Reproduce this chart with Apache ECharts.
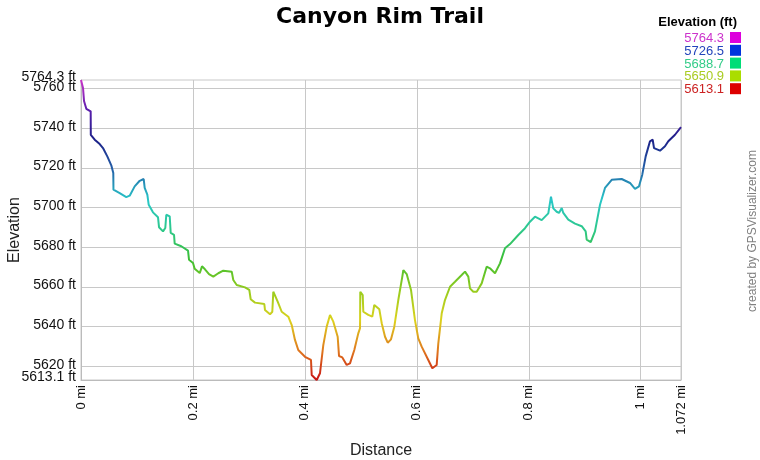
<!DOCTYPE html>
<html>
<head>
<meta charset="utf-8">
<script src="https://cdn.jsdelivr.net/npm/echarts@6/dist/echarts.min.js"></script>
<style>
  html, body { margin: 0; padding: 0; background: #fff; }
  #chart { width: 760px; height: 460px; }
</style>
</head>
<body>
<div id="chart"></div>
<script>
// distance along the trail (mi)
const distance = [
  0, 0.0036, 0.0054, 0.0095, 0.0173, 0.0175, 0.0245, 0.0334, 0.0393, 0.0470,
  0.0541, 0.0577, 0.0580, 0.0691, 0.0809, 0.0870, 0.0959, 0.1049, 0.1120, 0.1138,
  0.1185, 0.1210, 0.1286, 0.1376, 0.1394, 0.1465, 0.1506, 0.1524, 0.1585, 0.1603,
  0.1662, 0.1674, 0.1792, 0.1912, 0.1930, 0.2001, 0.2031, 0.2121, 0.2162, 0.2215,
  0.2287, 0.2364, 0.2453, 0.2542, 0.2693, 0.2721, 0.2782, 0.2930, 0.3007, 0.3032,
  0.3109, 0.3275, 0.3287, 0.3377, 0.3418, 0.3436, 0.3514, 0.3586, 0.3704, 0.3765,
  0.3823, 0.3882, 0.4002, 0.4109, 0.4122, 0.4211, 0.4270, 0.4329, 0.4390, 0.4449,
  0.4508, 0.4586, 0.4610, 0.4669, 0.4747, 0.4806, 0.4883, 0.4954, 0.4985, 0.4990,
  0.5033, 0.5044, 0.5133, 0.5205, 0.5240, 0.5330, 0.5373, 0.5432, 0.5480, 0.5539,
  0.5598, 0.5669, 0.5741, 0.5759, 0.5819, 0.5896, 0.5967, 0.6026, 0.6087, 0.6205,
  0.6277, 0.6355, 0.6384, 0.6445, 0.6503, 0.6593, 0.6682, 0.6802, 0.6861, 0.6920,
  0.6950, 0.7009, 0.7070, 0.7159, 0.7248, 0.7307, 0.7397, 0.7486, 0.7575, 0.7665,
  0.7813, 0.7933, 0.8022, 0.8111, 0.8231, 0.8349, 0.8397, 0.8438, 0.8499, 0.8540,
  0.8589, 0.8617, 0.8706, 0.8826, 0.8946, 0.9017, 0.9035, 0.9107, 0.9183, 0.9273,
  0.9362, 0.9482, 0.9660, 0.9809, 0.9898, 0.9970, 1.0028, 1.0089, 1.0166, 1.0214,
  1.0238, 1.0345, 1.0434, 1.0493, 1.0613, 1.072
];
// elevation (ft)
const elevation = [
  5764.3, 5760.3, 5753.7, 5749.8, 5748.5, 5736.7, 5734.2, 5732.0, 5730.0, 5725.8,
  5721.3, 5717.4, 5709.0, 5707.3, 5705.3, 5706.0, 5710.7, 5713.5, 5714.4, 5709.9,
  5706.5, 5701.4, 5697.6, 5695.1, 5690.1, 5688.0, 5689.7, 5696.4, 5695.6, 5687.2,
  5686.3, 5681.8, 5680.5, 5678.3, 5673.7, 5672.1, 5669.2, 5667.0, 5670.4, 5668.9,
  5666.5, 5665.2, 5666.9, 5668.2, 5667.7, 5663.5, 5661.0, 5659.8, 5658.5, 5653.8,
  5652.1, 5651.4, 5648.4, 5646.2, 5647.5, 5657.6, 5652.6, 5647.5, 5645.0, 5640.8,
  5633.3, 5628.2, 5624.8, 5623.2, 5615.6, 5613.1, 5616.5, 5630.7, 5640.0, 5645.9,
  5642.5, 5634.9, 5625.2, 5624.5, 5620.7, 5621.5, 5628.2, 5636.6, 5639.2, 5657.6,
  5655.9, 5647.5, 5645.9, 5645.0, 5650.9, 5648.7, 5641.7, 5634.9, 5631.9, 5633.6,
  5640.0, 5653.4, 5665.2, 5668.5, 5666.5, 5658.5, 5643.3, 5634.1, 5629.9, 5623.2,
  5619.0, 5620.7, 5631.6, 5646.7, 5653.4, 5660.1, 5662.6, 5666.0, 5667.7, 5665.2,
  5659.3, 5657.6, 5657.6, 5661.8, 5670.2, 5669.4, 5666.9, 5671.9, 5679.5, 5681.6,
  5686.2, 5689.6, 5692.9, 5695.4, 5693.7, 5697.1, 5705.5, 5699.6, 5697.9, 5697.3,
  5699.8, 5697.3, 5693.9, 5691.9, 5690.6, 5688.0, 5683.8, 5682.6, 5688.0, 5701.4,
  5709.9, 5714.0, 5714.4, 5712.4, 5709.4, 5710.7, 5716.6, 5725.8, 5733.4, 5734.2,
  5730.0, 5728.7, 5730.9, 5733.4, 5736.7, 5740.6
];

const xTicks = [0, 0.2, 0.4, 0.6, 0.8, 1, 1.072];
const yTicks = [5620, 5640, 5660, 5680, 5700, 5720, 5740, 5760];
const yRange = [5613.1, 5764.3]; // min / max labels

// legend (elevation scale)
const legendValues = ['5764.3', '5726.5', '5688.7', '5650.9', '5613.1'];
const legendTextColors = ['#cc33cc', '#2244bb', '#33cc88', '#aacc22', '#cc2222'];
const legendBoxColors = ['#dd00dd', '#0033dd', '#00dd77', '#aadd00', '#dd0000'];

// colours along the line, from lowest to highest elevation
const rampColors = ['#c81414', '#e07a1e', '#dcd21e', '#96cc1e', '#3cbe32', '#2ec88a',
  '#28c8c8', '#2462a8', '#1c2088', '#5a1eac', '#c832c8'];

const FONT = '"Liberation Sans", Arial, sans-serif';

const chart = echarts.init(document.getElementById('chart'));

const legendGraphics = [{
  type: 'text', right: 23, top: 16,
  style: { text: 'Elevation (ft)', font: 'bold 13px ' + FONT, fill: '#000' }
}];
legendValues.forEach((v, i) => {
  legendGraphics.push({
    type: 'text', right: 36, top: 32 + i * 12.8,
    style: { text: v, font: '13px ' + FONT, fill: legendTextColors[i] }
  });
  legendGraphics.push({
    type: 'rect', shape: { x: 730, y: 32 + i * 12.8, width: 11, height: 11 },
    style: { fill: legendBoxColors[i] }
  });
});
legendGraphics.push({
  type: 'text', x: 753, y: 231, rotation: Math.PI / 2,
  style: {
    text: 'created by GPSVisualizer.com', font: '12px ' + FONT, fill: '#808080',
    align: 'center', verticalAlign: 'middle'
  }
});

const yLabelBase = {
  margin: 5,
  fontSize: 14,
  color: '#111',
  verticalAlign: 'bottom',
  showMinLabel: true,
  showMaxLabel: true,
  hideOverlap: false,
  formatter: v => v + ' ft'
};

const option = {
  animation: false,
  textStyle: { fontFamily: FONT },
  title: {
    text: 'Canyon Rim Trail',
    left: 'center',
    top: 1,
    textStyle: { fontSize: 22, fontWeight: 'bold', color: '#000', fontFamily: '"DejaVu Sans", ' + FONT }
  },
  grid: {
    left: 81, top: 80, width: 600, height: 300,
    outerBoundsMode: 'none', containLabel: false,
    show: true, borderColor: '#c8c8c8', borderWidth: 1
  },
  xAxis: {
    type: 'value',
    min: 0,
    max: 1.072,
    name: 'Distance',
    nameLocation: 'middle',
    nameGap: 58,
    nameTextStyle: { fontSize: 16, color: '#222' },
    axisLine: { lineStyle: { color: '#bbb' } },
    axisTick: { show: false, customValues: xTicks },
    axisLabel: {
      customValues: xTicks,
      rotate: 90,
      margin: 5,
      fontSize: 13,
      color: '#111',
      showMinLabel: true,
      showMaxLabel: true,
      hideOverlap: false,
      formatter: v => v + ' mi'
    },
    splitLine: { show: true, lineStyle: { color: '#c8c8c8' } }
  },
  yAxis: [{
    type: 'value',
    min: yRange[0],
    max: yRange[1],
    name: 'Elevation',
    nameLocation: 'middle',
    nameGap: 50,
    nameTextStyle: { fontSize: 16, color: '#222' },
    axisLine: { show: true, lineStyle: { color: '#bbb' } },
    axisTick: { show: false, customValues: yTicks },
    axisLabel: Object.assign({ customValues: yTicks, lineHeight: 3 }, yLabelBase),
    splitLine: { show: true, lineStyle: { color: '#c8c8c8' } }
  }, {
    type: 'value',
    position: 'left',
    min: yRange[0],
    max: yRange[1],
    axisLine: { show: false },
    axisTick: { show: false, customValues: yRange },
    axisLabel: Object.assign({ customValues: yRange, lineHeight: 6 }, yLabelBase),
    splitLine: { show: false }
  }],
  visualMap: {
    show: false,
    type: 'continuous',
    dimension: 1,
    min: yRange[0],
    max: yRange[1],
    inRange: { color: rampColors }
  },
  series: [{
    type: 'line',
    yAxisIndex: 0,
    data: distance.map((d, i) => [d, elevation[i]]),
    showSymbol: false,
    lineStyle: { width: 2 }
  }],
  graphic: legendGraphics
};

chart.setOption(option);
</script>
</body>
</html>
